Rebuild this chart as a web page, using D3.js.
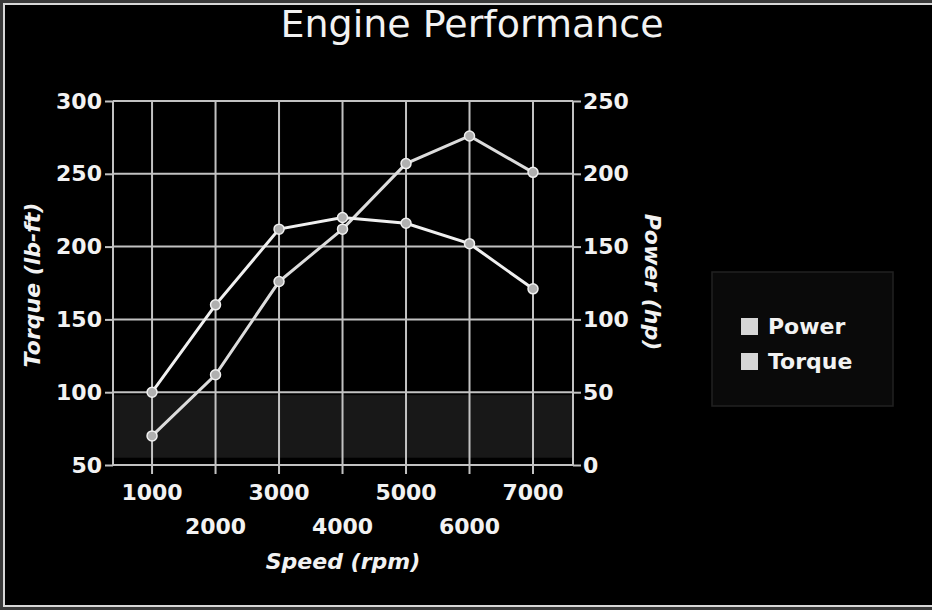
<!DOCTYPE html>
<html>
<head>
<meta charset="utf-8">
<script src="https://cdn.jsdelivr.net/npm/d3@7"></script>
<style>
  html, body { margin: 0; padding: 0; background: #000; }
  text { font-family: "DejaVu Sans", Verdana, sans-serif; fill: #f2f2f2; }
</style>
</head>
<body>
<div class="container"></div>
<script>
// values
let speeds = [1000, 2000, 3000, 4000, 5000, 6000, 7000];
let torque = [100, 160, 212, 220, 216, 202, 171];   // lb-ft, left axis
let power = [20, 62, 126, 162, 207, 226, 201];      // hp, right axis
let torqueTicks = [50, 100, 150, 200, 250, 300];
let powerTicks = [0, 50, 100, 150, 200, 250];
let legendItems = ['Power', 'Torque'];

let W = 932, H = 610,
    margin = { top: 101, right: 359, bottom: 145, left: 113 },
    width = W - margin.left - margin.right,
    height = H - margin.top - margin.bottom;

let svg = d3.select('.container')
            .append('svg')
            .attr('width', W)
            .attr('height', H);

// frame round the picture
svg.append('rect').attr('width', W).attr('height', H).attr('fill', '#3a3a3a');
svg.append('rect').attr('x', 3).attr('y', 3).attr('width', W - 3).attr('height', H - 6).attr('fill', '#d8d8d8');
svg.append('rect').attr('x', 5).attr('y', 5).attr('width', W - 5).attr('height', H - 10).attr('fill', '#000');

let xScale = d3.scaleLinear()
               .domain([385, 7630])
               .range([0, width]);

let yLeft = d3.scaleLinear()
              .domain([50, 300])
              .range([height, 0]);

let yRight = d3.scaleLinear()
               .domain([0, 250])
               .range([height, 0]);

let g = svg.append('g')
           .attr('transform', `translate(${margin.left}, ${margin.top})`);

// faint grey band near the bottom of the plot
g.append('rect')
 .attr('x', 0)
 .attr('y', yLeft(98))
 .attr('width', width)
 .attr('height', yLeft(55) - yLeft(98))
 .attr('fill', '#181818');

// grid
g.selectAll('.hgrid')
 .data(torqueTicks)
 .enter()
 .append('line')
 .attr('x1', 0).attr('x2', width)
 .attr('y1', d => yLeft(d)).attr('y2', d => yLeft(d))
 .attr('stroke', '#c2c2c2').attr('stroke-width', 2);

g.selectAll('.vgrid')
 .data(speeds)
 .enter()
 .append('line')
 .attr('x1', d => xScale(d)).attr('x2', d => xScale(d))
 .attr('y1', 0).attr('y2', height + 9)
 .attr('stroke', '#c2c2c2').attr('stroke-width', 2);

// plot borders
g.append('line').attr('x1', 0).attr('x2', 0).attr('y1', 0).attr('y2', height)
 .attr('stroke', '#c2c2c2').attr('stroke-width', 2);
g.append('line').attr('x1', width).attr('x2', width).attr('y1', 0).attr('y2', height)
 .attr('stroke', '#c2c2c2').attr('stroke-width', 2);

// axes
let leftAxis = d3.axisLeft(yLeft).tickValues(torqueTicks).tickSize(8).tickPadding(3);
let rightAxis = d3.axisRight(yRight).tickValues(powerTicks).tickSize(8).tickPadding(2);

function styleAxis(sel) {
  sel.select('.domain').remove();
  sel.selectAll('.tick line').attr('stroke', '#c2c2c2').attr('stroke-width', 2);
  sel.selectAll('.tick text')
     .attr('fill', '#f2f2f2')
     .style('font-size', '22px')
     .style('font-weight', 'bold')
     .style('font-family', '"DejaVu Sans", Verdana, sans-serif');
}

g.append('g').call(leftAxis).call(styleAxis);
g.append('g').attr('transform', `translate(${width}, 0)`).call(rightAxis).call(styleAxis);

// x labels staggered on two rows
g.selectAll('.xlabel')
 .data(speeds)
 .enter()
 .append('text')
 .attr('x', d => xScale(d))
 .attr('y', (d, i) => height + (i % 2 === 0 ? 35 : 69))
 .attr('text-anchor', 'middle')
 .style('font-size', '22px')
 .style('font-weight', 'bold')
 .text(d => d);

// lines
let torqueLine = d3.line()
                   .x((d, i) => xScale(speeds[i]))
                   .y(d => yLeft(d));

let powerLine = d3.line()
                  .x((d, i) => xScale(speeds[i]))
                  .y(d => yRight(d));

g.append('path')
 .datum(power)
 .attr('d', powerLine)
 .attr('fill', 'none')
 .attr('stroke', '#dcdcdc')
 .attr('stroke-width', 3);

g.append('path')
 .datum(torque)
 .attr('d', torqueLine)
 .attr('fill', 'none')
 .attr('stroke', '#f0f0f0')
 .attr('stroke-width', 3);

g.selectAll('.pp')
 .data(power)
 .enter()
 .append('circle')
 .attr('cx', (d, i) => xScale(speeds[i]))
 .attr('cy', d => yRight(d))
 .attr('r', 5)
 .attr('fill', '#b0b0b0')
 .attr('stroke', '#f0f0f0')
 .attr('stroke-width', 1.5);

g.selectAll('.tp')
 .data(torque)
 .enter()
 .append('circle')
 .attr('cx', (d, i) => xScale(speeds[i]))
 .attr('cy', d => yLeft(d))
 .attr('r', 5)
 .attr('fill', '#b0b0b0')
 .attr('stroke', '#f0f0f0')
 .attr('stroke-width', 1.5);

// titles
svg.append('text')
   .attr('x', 472)
   .attr('y', 37)
   .attr('text-anchor', 'middle')
   .style('font-size', '38px')
   .text('Engine Performance');

svg.append('text')
   .attr('x', margin.left + width / 2)
   .attr('y', 569)
   .attr('text-anchor', 'middle')
   .style('font-size', '22px')
   .style('font-weight', 'bold')
   .style('font-style', 'italic')
   .text('Speed (rpm)');

svg.append('text')
   .attr('transform', 'translate(40, 285) rotate(-90)')
   .attr('text-anchor', 'middle')
   .style('font-size', '22px')
   .style('font-weight', 'bold')
   .style('font-style', 'italic')
   .text('Torque (lb-ft)');

svg.append('text')
   .attr('transform', 'translate(645, 282) rotate(90)')
   .attr('text-anchor', 'middle')
   .style('font-size', '22px')
   .style('font-weight', 'bold')
   .style('font-style', 'italic')
   .text('Power (hp)');

// legend
let legend = svg.append('g').attr('transform', 'translate(712, 272)');

legend.append('rect')
      .attr('width', 181)
      .attr('height', 134)
      .attr('fill', '#0a0a0a')
      .attr('stroke', '#222222')
      .attr('stroke-width', 1.5);

let items = legend.selectAll('.item')
                  .data(legendItems)
                  .enter()
                  .append('g')
                  .attr('transform', (d, i) => `translate(29, ${46 + i * 35})`);

items.append('rect')
     .attr('width', 17)
     .attr('height', 17)
     .attr('fill', '#d6d6d6');

items.append('text')
     .attr('x', 27)
     .attr('y', 16)
     .style('font-size', '22px')
     .style('font-weight', 'bold')
     .text(d => d);
</script>
</body>
</html>
